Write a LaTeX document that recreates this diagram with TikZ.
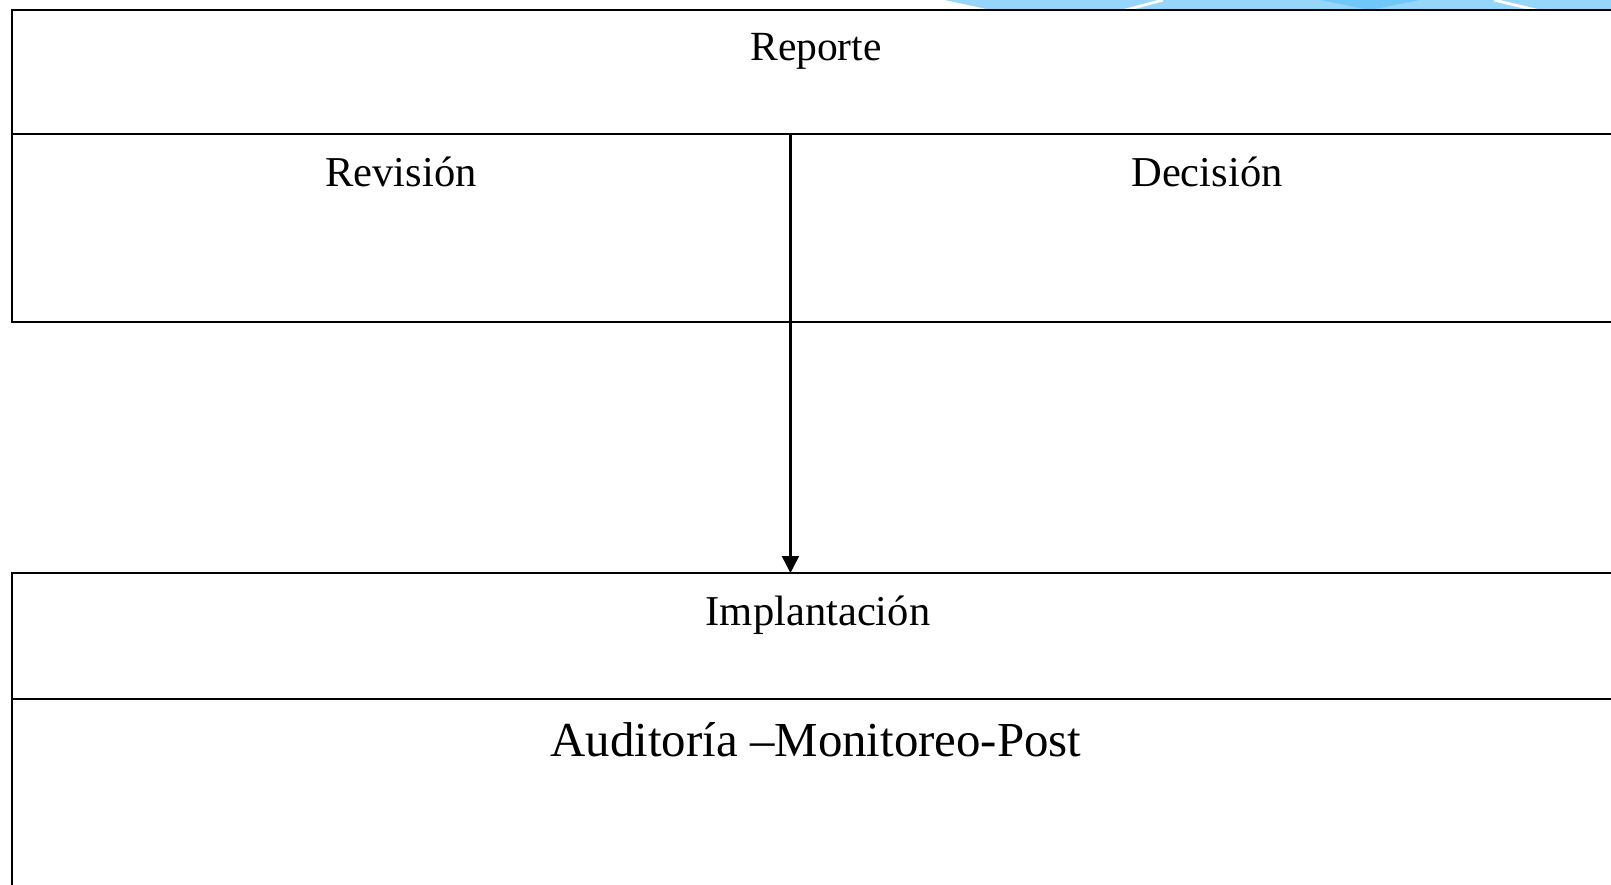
\documentclass[tikz,border=0pt]{standalone}
\usepackage{fontspec}
\setmainfont{Liberation Serif}
\usepackage{tikz}
\usetikzlibrary{arrows.meta}

\definecolor{swooshblue}{RGB}{150,214,250}
\definecolor{swooshdeep}{RGB}{112,200,250}

\begin{document}
\begin{tikzpicture}[x=0.01cm,y=-0.01cm,every node/.style={inner sep=0pt,outer sep=0pt},
	cell/.style={draw,line width=0.6pt,anchor=north west},
	lbl/.style={anchor=base,font=\fontsize{12.1}{14}\selectfont}]
	
	\fill[white] (0,0) rectangle (1611,885);
	\clip (0,0) rectangle (1611,885);
	
	% slide decoration at the top
	\fill[swooshblue] (945,0) -- (1611,0) -- (1611,10) -- (991,10) -- cycle;
	\fill[swooshdeep] (1320,0) -- (1420,0) -- (1370,10) -- cycle;
	\draw[white,line width=0.8pt] (1122,11) -- (1163,0);
	\draw[white,line width=0.8pt] (1494,0) -- (1540,11);
	
	% cells
	\node[cell,minimum width=16.3cm,minimum height=1.24cm] (reportecell) at (11.7,10) {};
	\node[cell,minimum width=7.783cm,minimum height=1.88cm] (revisioncell) at (11.7,134) {};
	\node[cell,minimum width=8.5cm,minimum height=1.88cm] (decisioncell) at (790,134) {};
	\node[cell,minimum width=16.3cm,minimum height=1.26cm] (implcell) at (11.7,573) {};
	\node[cell,minimum width=16.3cm,minimum height=2.6cm] (auditcell) at (11.7,699) {};
	
	% texts
	\node[lbl,font=\fontsize{11.8}{14}\selectfont] (reporte) at (816,61) {Reporte};
	\node[lbl] (revision) at (401,187) {Revisión};
	\node[lbl] (decision) at (1207,187) {Decisión};
	\node[lbl] (implantacion) at (818,625) {Implantación};
	\node[lbl,font=\fontsize{13.9}{16}\selectfont] (auditoria) at (816,756) {Auditoría –Monitoreo-Post};
	
	\draw[line width=0.6pt,-{Triangle[length=4.8pt,width=4.8pt]}] (revisioncell.south east) -- (implcell.north -| revisioncell.south east);
\end{tikzpicture}
\end{document}
